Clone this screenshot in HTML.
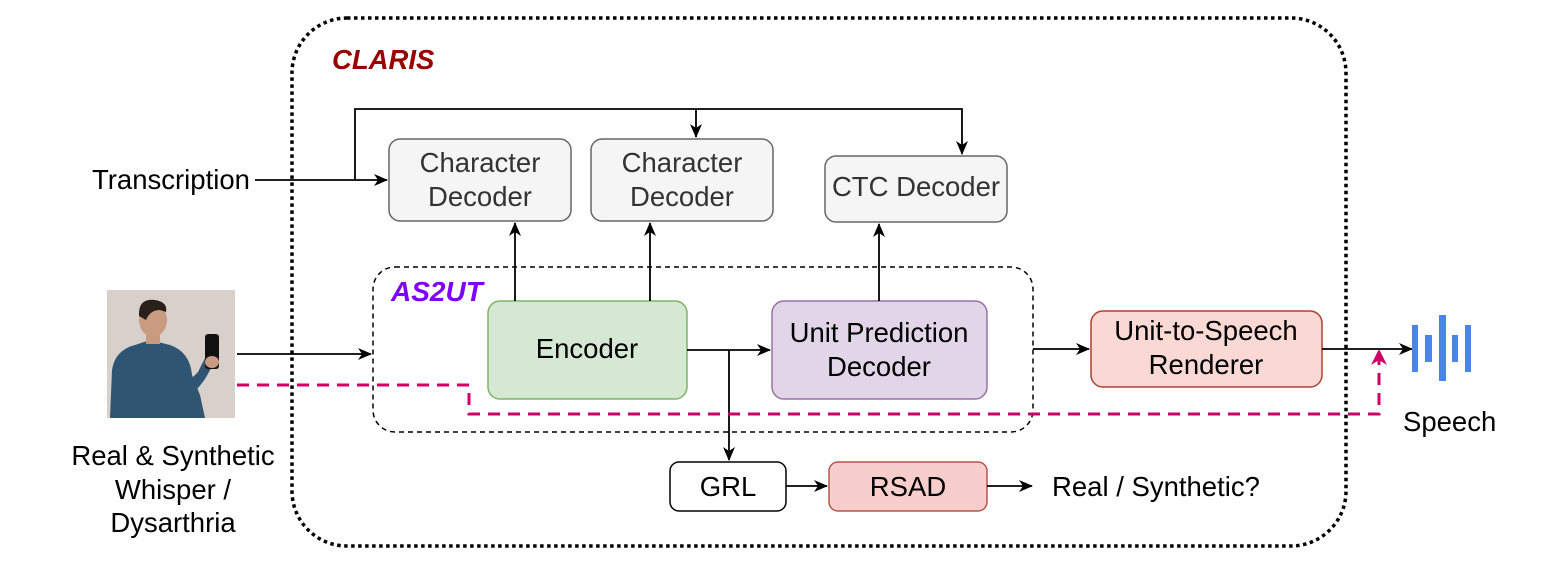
<!DOCTYPE html>
<html><head><meta charset="utf-8"><style>
html,body{margin:0;padding:0;background:#fff;}
svg{display:block;font-family:"Liberation Sans",Arial,sans-serif;}
</style></head><body>
<svg width="1561" height="567" viewBox="0 0 1561 567" xmlns="http://www.w3.org/2000/svg">
<defs>
<marker id="a" markerWidth="14" markerHeight="12" refX="13" refY="6" orient="auto" markerUnits="userSpaceOnUse">
<path d="M0,0 L14,6 L0,12 L4,6 Z" fill="#000"/></marker>
<marker id="p" markerWidth="16" markerHeight="16" refX="15" refY="8" orient="auto" markerUnits="userSpaceOnUse">
<path d="M0,0 L16,8 L0,16 L5,8 Z" fill="#cc0066"/></marker>
</defs>
<rect x="292" y="18" width="1054" height="528" rx="55" fill="none" stroke="#000" stroke-width="3.5" stroke-dasharray="3.5,3.5"/>
<text x="332" y="69" font-size="27.5" font-weight="bold" font-style="italic" fill="#990000">CLARIS</text>
<rect x="373" y="267" width="660" height="165" rx="22" fill="none" stroke="#000" stroke-width="1.5" stroke-dasharray="5,4"/>
<text x="391" y="301" font-size="28" font-weight="bold" font-style="italic" fill="#7f00ff">AS2UT</text>

<g font-size="27.5" text-anchor="middle">
<rect x="389" y="139" width="182" height="82" rx="11" fill="#f5f5f5" stroke="#666" stroke-width="1.5"/>
<text x="480" y="172" fill="#333">Character</text><text x="480" y="206" fill="#333">Decoder</text>
<rect x="591" y="139" width="182" height="82" rx="11" fill="#f5f5f5" stroke="#666" stroke-width="1.5"/>
<text x="682" y="172" fill="#333">Character</text><text x="682" y="206" fill="#333">Decoder</text>
<rect x="825" y="156" width="182" height="66" rx="11" fill="#f5f5f5" stroke="#666" stroke-width="1.5"/>
<text x="916" y="196" fill="#333">CTC Decoder</text>
<rect x="488" y="301" width="199" height="98" rx="12" fill="#d5e8d4" stroke="#82b366" stroke-width="1.5"/>
<text x="587" y="358">Encoder</text>
<rect x="772" y="301" width="215" height="98" rx="12" fill="#e1d5e7" stroke="#9673a6" stroke-width="1.5"/>
<text x="879" y="342">Unit Prediction</text><text x="879" y="376">Decoder</text>
<rect x="1091" y="311" width="231" height="76" rx="12" fill="#fad9d5" stroke="#ae4132" stroke-width="1.5"/>
<text x="1206" y="340">Unit-to-Speech</text><text x="1206" y="374">Renderer</text>
<rect x="670" y="462" width="116" height="49" rx="9" fill="#fff" stroke="#000" stroke-width="1.5"/>
<text x="728" y="496">GRL</text>
<rect x="829" y="462" width="158" height="49" rx="9" fill="#f8cecc" stroke="#b85450" stroke-width="1.5"/>
<text x="908" y="496">RSAD</text>
</g>
<g font-size="27.5">
<text x="92" y="189">Transcription</text>
<text x="1052" y="496">Real / Synthetic?</text>
<text x="1403" y="431">Speech</text>
<text x="173" y="465" text-anchor="middle">Real &amp; Synthetic</text>
<text x="173" y="499" text-anchor="middle">Whisper /</text>
<text x="173" y="532" text-anchor="middle">Dysarthria</text>
</g>

<g stroke="#000" stroke-width="1.8" fill="none">
<path d="M255,180 L387,180" marker-end="url(#a)"/>
<path d="M355,180 L355,109 L962,109 L962,154" marker-end="url(#a)"/>
<path d="M696,109 L696,137" marker-end="url(#a)"/>
<path d="M515,301 L515,223" marker-end="url(#a)"/>
<path d="M650,301 L650,223" marker-end="url(#a)"/>
<path d="M879,301 L879,224" marker-end="url(#a)"/>
<path d="M237,354 L371,354" marker-end="url(#a)"/>
<path d="M687,350 L770,350" marker-end="url(#a)"/>
<path d="M729,350 L729,460" marker-end="url(#a)"/>
<path d="M786,486 L827,486" marker-end="url(#a)"/>
<path d="M987,486 L1032,486" marker-end="url(#a)"/>
<path d="M1033,349 L1089,349" marker-end="url(#a)"/>
<path d="M1322,349 L1412,349" marker-end="url(#a)"/>
</g>
<path d="M237,385 L469,385 L469,414 L1379,414 L1379,350" fill="none" stroke="#cc0066" stroke-width="3" stroke-dasharray="12,8" marker-end="url(#p)"/>

<g fill="#4a86e8">
<rect x="1412" y="325" width="6" height="47"/>
<rect x="1425" y="335" width="7" height="27"/>
<rect x="1439" y="315" width="7" height="66"/>
<rect x="1452" y="335" width="6" height="27"/>
<rect x="1465" y="325" width="6" height="47"/>
</g>

<rect x="107" y="290" width="128" height="128" fill="#d8d0ca"/>
<path d="M110,418 L112,370 Q115,350 135,345 L150,340 L170,345 Q190,352 192,375 L200,395 L205,418 Z" fill="#2f5572"/>
<path d="M188,395 Q200,390 210,370 L216,360 L206,356 L198,372 L190,380 Z" fill="#2f5572"/>
<rect x="146" y="328" width="14" height="16" fill="#c79a80"/>
<ellipse cx="153" cy="320" rx="14" ry="17" fill="#c99c82"/>
<path d="M139,316 Q138,298 155,300 Q168,302 166,312 L160,310 Q150,310 146,320 Z" fill="#2a201b"/>
<rect x="205" y="334" width="14" height="35" rx="3" fill="#111"/>
<ellipse cx="212" cy="362" rx="7" ry="6" fill="#c99c82"/>
</svg>
</body></html>
